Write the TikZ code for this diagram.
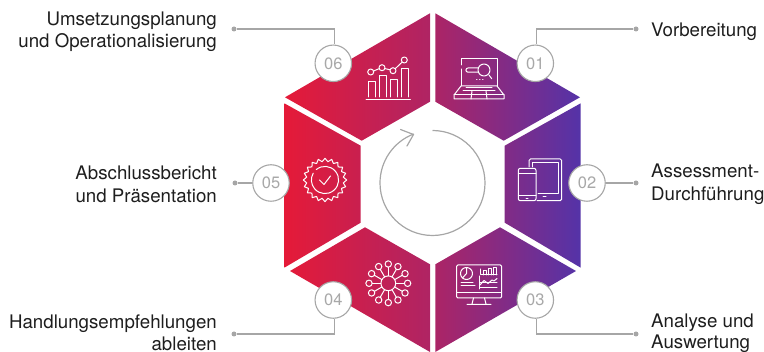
\documentclass[tikz,border=0pt]{standalone}
\usepackage{fontspec}
\setmainfont{TeX Gyre Heros}
\usetikzlibrary{arrows.meta}
\definecolor{gL}{HTML}{E51A38}
\definecolor{gM}{HTML}{AF2464}
\definecolor{gR}{HTML}{5433A8}
\definecolor{gline}{HTML}{A6A6A6}
\definecolor{numc}{HTML}{A8A8A8}
\definecolor{txt}{HTML}{1E1E1E}
\pgfdeclarehorizontalshading{hexgrad}{100bp}{color(0bp)=(gL);color(25bp)=(gL);color(49.6bp)=(gM);color(75bp)=(gR);color(100bp)=(gR)}
\tikzset{
  x=1pt,y=-1pt,
  numnode/.style={circle,draw=gline,line width=1.1pt,fill=white,minimum size=36.5pt,inner sep=0pt,text=numc,font=\fontsize{16.5}{16.5}\selectfont},
  lbl/.style={align=left,anchor=west,text=txt,inner sep=0pt,font=\fontsize{18.7}{#1}\selectfont},
  lbl/.default=22,
  lbr/.style={align=right,anchor=east,text=txt,inner sep=0pt,font=\fontsize{18.7}{#1}\selectfont},
  lbr/.default=22,
  conn/.style={draw=gline,line width=1.1pt},
  dotc/.style={circle,fill=gline,inner sep=0pt,minimum size=5pt},
  ico/.style={draw=white,line width=1pt,line join=round,line cap=round},
}
\begin{document}
\begin{tikzpicture}
\useasboundingbox (0,0) rectangle (764,352);
% hexagon segments with one shared gradient
\begin{scope}
\clip (430,13.3)--(430,101.7)--(361.7,140.7)--(285,97.3)--cycle
      (435.3,13.3)--(435.3,101.7)--(503.7,140.7)--(580,97.3)--cycle
      (580.7,103.3)--(580.7,267.7)--(504.7,222.7)--(504.7,145.7)--cycle
      (284.3,103.3)--(284.3,267.7)--(360.7,222.7)--(360.7,145.7)--cycle
      (290,271)--(365,227.3)--(430,264.3)--(430,352)--cycle
      (435.3,264.3)--(500,227.3)--(576,271)--(435.3,352)--cycle;
\shade[shading=hexgrad] (284,0) rectangle (581,352);
\end{scope}
% cycle arrow
\draw[gline,line width=1.2pt] (432.5,130.5) arc[start angle=-90,delta angle=339,radius=52.5];
\draw[gline,line width=1.2pt,line cap=round,line join=round] (400.5,129.5)--(413.5,134.5)--(407,146);
% connectors
\node[numnode] (n6) at (333.3,63.3) {06};
\node[numnode] (n1) at (535.3,63.3) {01};
\node[numnode] (n2) at (587,183) {02};
\node[numnode] (n5) at (271,183) {05};
\node[numnode] (n4) at (333.3,300) {04};
\node[numnode] (n3) at (535.3,300) {03};
\node[dotc] (d6) at (234,29) {};
\node[dotc] (d1) at (636,29) {};
\node[dotc] (d2) at (636,183) {};
\node[dotc] (d5) at (235,183) {};
\node[dotc] (d4) at (234,334) {};
\node[dotc] (d3) at (636,334) {};
\draw[conn] ([xshift=1pt]n6.north)|-(d6);
\draw[conn] ([xshift=1.3pt]n1.north)|-(d1);
\draw[conn] (n2)--(d2);
\draw[conn] (n5)--(d5);
\draw[conn] ([xshift=1pt]n4.south)|-(d4);
\draw[conn] ([xshift=1.3pt]n3.south)|-(d3);
% labels
\node[lbr] (t6) at (217,32) {Umsetzungsplanung\\und Operationalisierung};
\node[lbr=23.5] (t5) at (217,184.5) {Abschlussbericht\\und Präsentation};
\node[lbr=21.5] (t4) at (217,333) {Handlungsempfehlungen\\ableiten};
\node[lbl] (t1) at (651,32) {Vorbereitung};
\node[lbl=23] (t2) at (651,184.5) {Assessment-\\Durchführung};
\node[lbl=21.5] (t3) at (651,333) {Analyse und\\Auswertung};
% icon 06
\begin{scope}[ico]
\draw (366,99.3)--(410.3,99.3);
\draw (368,97)--(368,81.7)--(375.3,81.7)--(375.3,97);
\draw (379.3,97)--(379.3,76)--(386.7,76)--(386.7,97);
\draw (390.3,97)--(390.3,79.3)--(397.3,79.3)--(397.3,97);
\draw (401.3,97)--(401.3,68.3)--(408.7,68.3)--(408.7,97);
\draw (370.7,72) circle[radius=3];
\draw (382,67.7) circle[radius=3];
\draw (393,70.7) circle[radius=3];
\draw (404.3,60) circle[radius=3];
\draw (373.6,71)--(379.1,68.7) (384.9,68.6)--(390.1,69.8) (395.2,68.7)--(402.2,62.1);
\end{scope}
% icon 01
\begin{scope}[ico]
\draw (461,65)--(461,58.7)--(497,58.7)--(497,86) (461,69)--(461,86);
\draw (461,86)--(454,95)--(454,99)--(504,99)--(504,95)--(497,86)--cycle;
\draw (454,95)--(504,95);
\draw (466,88)--(492,88) (463,91)--(495,91);
\draw (472,91)--(471,99) (486,91)--(487,99);
\draw (484,70) circle[radius=6];
\draw (489,75)--(491.7,78.7);
\draw (478,68)--(468,68) arc[start angle=-90,delta angle=-180,radius=2.1] --(478,72.2);
\draw (476.5,80)--(477,80) (479.5,80)--(480,80) (482.5,80)--(483,80);
\end{scope}
% icon 02
\begin{scope}[ico]
\draw[rounded corners=1.5pt] (529,167)--(529,159)--(561.7,159)--(561.7,200.7)--(537,200.7);
\draw (532,167)--(532,163)--(558.5,163)--(558.5,193.5)--(538,193.5);
\draw (543,197)--(546,197);
\draw[rounded corners=2pt] (518.3,168.3) rectangle (536,200.7);
\draw (518.3,173.5)--(536,173.5) (518.3,196)--(536,196);
\draw (526,198.5)--(528,198.5);
\end{scope}
% icon 05
\begin{scope}[ico]
\draw plot[samples at={0,9,...,351}] ({325+(20.1+1.6*cos(20*\x))*cos(\x)},{180+(20.1+1.6*cos(20*\x))*sin(\x)}) -- cycle;
\draw (325,180)+(-130:13.6) arc[start angle=-130,delta angle=340,radius=13.6];
\draw (319.5,180)--(324,184.5)--(330.5,176);
\end{scope}
% icon 04
\begin{scope}[ico]
\draw (388.3,283.3) circle[radius=7.4];
\foreach \a in {0,30,...,330}{
  \draw ({388.3+7.4*cos(\a)},{283.3+7.4*sin(\a)})--({388.3+16.1*cos(\a)},{283.3+16.1*sin(\a)});
  \draw ({388.3+19.3*cos(\a)},{283.3+19.3*sin(\a)}) circle[radius=3.2];
}
\end{scope}
% icon 03
\begin{scope}[ico]
\draw[rounded corners=1.2pt] (456.7,265) rectangle (501.5,298);
\draw (456.7,292.3)--(501.5,292.3);
\draw (473.5,298)--(472,304) (484.5,298)--(486,304) (467,304.3)--(491,304.3);
\draw (466.5,273.5) circle[radius=6];
\draw (466.5,267.5)--(466.5,273.5)--(462.5,278);
\draw (461,282.5)--(473,282.5) (461,285.5)--(475,285.5);
\draw (479.5,283)--(497,283);
\draw (479.5,288)--(497,288);
\draw (479.5,276)--(479.5,289);
\draw (480,269)--(480,275)--(497,275);
\draw (483,275)--(483,270.5)--(486,270.5)--(486,275);
\draw (488,275)--(488,269)--(491,269)--(491,275);
\draw (493,275)--(493,267.5)--(496,267.5)--(496,275);
\draw (480,285)--(484,280.5)--(488,283.5)--(492,280)--(494,281)--(497,278.5);
\end{scope}
\end{tikzpicture}
\end{document}
